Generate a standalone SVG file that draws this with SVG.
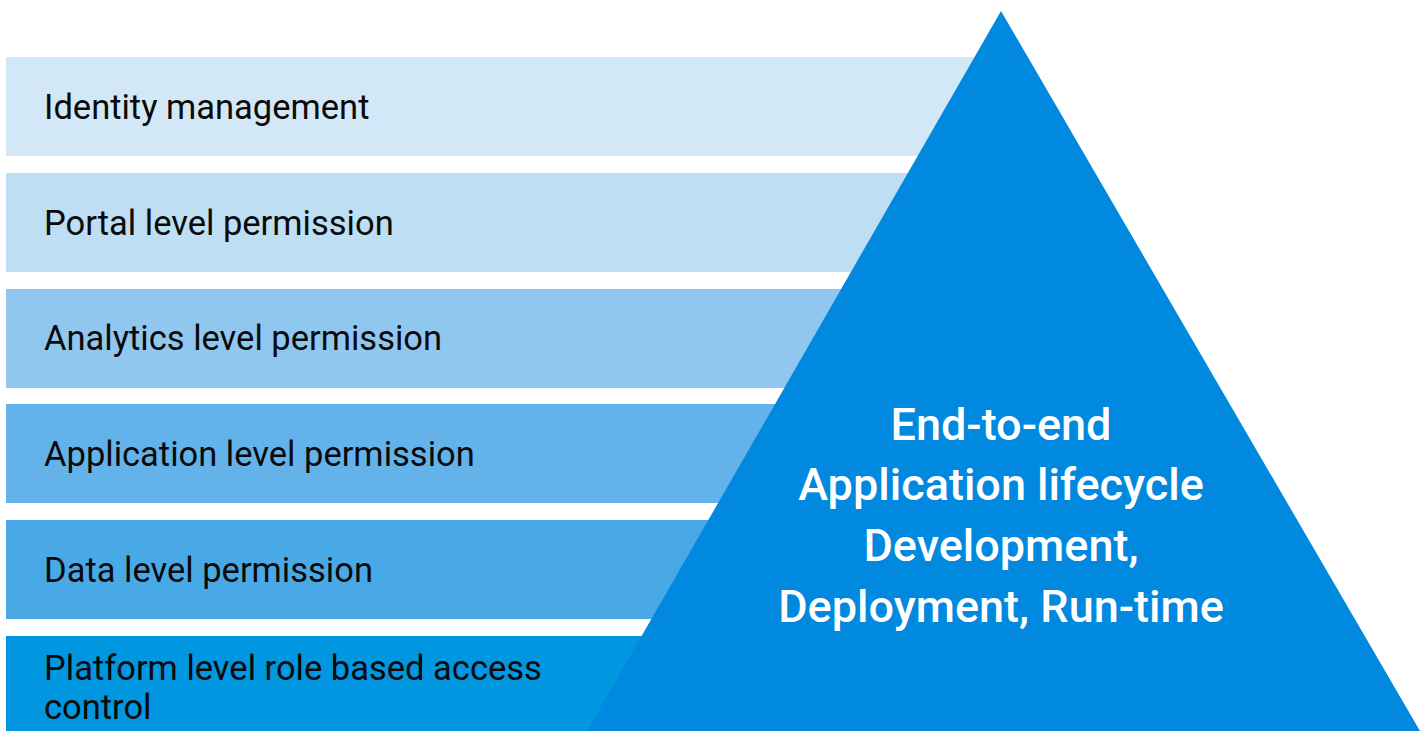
<svg xmlns="http://www.w3.org/2000/svg" width="1427" height="731" viewBox="0 0 1427 731">
<style>
.lbl{font-family:Roboto,"Liberation Sans",sans-serif;font-size:34.5px;fill:#0a0a0a}
.tri{font-family:Roboto,"Liberation Sans",sans-serif;font-size:45px;font-weight:500;fill:#ffffff;text-anchor:middle}
</style>
<rect width="1427" height="731" fill="#ffffff"/>
<g id="band1"><rect x="6" y="57" width="1000" height="99" fill="#D3E8F6"/><text class="lbl" x="44" y="119">Identity management</text></g>
<g id="band2"><rect x="6" y="173" width="1000" height="99" fill="#BDDEF3"/><text class="lbl" x="44" y="235">Portal level permission</text></g>
<g id="band3"><rect x="6" y="289" width="1000" height="99" fill="#90C7EF"/><text class="lbl" x="44" y="350">Analytics level permission</text></g>
<g id="band4"><rect x="6" y="404" width="1000" height="99" fill="#63B3EA"/><text class="lbl" x="44" y="466">Application level permission</text></g>
<g id="band5"><rect x="6" y="520" width="1000" height="99" fill="#48A9E6"/><text class="lbl" x="44" y="582">Data level permission</text></g>
<g id="band6"><rect x="6" y="636" width="1000" height="95" fill="#0096E0"/><text class="lbl" x="44" y="680">Platform level role based access</text><text class="lbl" x="44" y="719">control</text></g>
<g id="pyramid"><polygon points="1001,11 1420,731 587,731" fill="#0089DE"/>
<text class="tri" x="1001" y="440">End-to-end</text>
<text class="tri" x="1001" y="500">Application lifecycle</text>
<text class="tri" x="1001" y="561">Development,</text>
<text class="tri" x="1001" y="622">Deployment, Run-time</text></g>
<g id="connectors"/>
</svg>
